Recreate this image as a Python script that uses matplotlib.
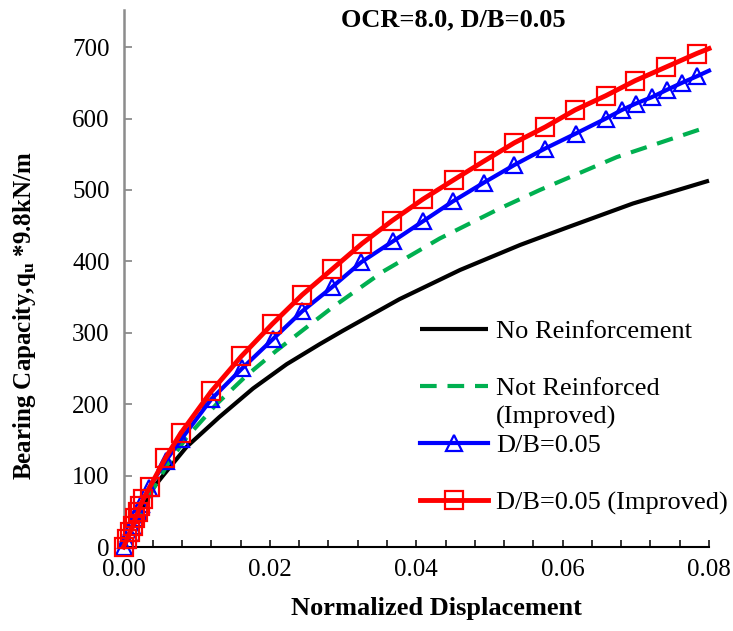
import matplotlib
matplotlib.use("Agg")
import matplotlib.pyplot as plt
from matplotlib.ticker import MultipleLocator, FormatStrFormatter

plt.rcParams['font.family'] = ['Liberation Serif', 'DejaVu Serif']
plt.rcParams['mathtext.fontset'] = 'custom'
plt.rcParams['mathtext.rm'] = 'Liberation Serif'
plt.rcParams['mathtext.bf'] = 'Liberation Serif:bold'
plt.rcParams['mathtext.it'] = 'Liberation Serif:italic'

# Load-settlement curves (normalized displacement vs bearing capacity)
x_noreinf = [0, 0.002, 0.004, 0.0054, 0.0086, 0.0131, 0.0177, 0.0223, 0.0268,
             0.030, 0.0377, 0.046, 0.0542, 0.0605, 0.0696, 0.080]
y_noreinf = [0, 45, 82, 100, 140, 182, 222, 256, 284,
             303, 347, 388, 423, 447, 481, 513]

x_notreinf_imp = [0, 0.002, 0.004, 0.0061, 0.0086, 0.0127, 0.0168, 0.0209, 0.0248,
                  0.0286, 0.0355, 0.0432, 0.0514, 0.0569, 0.0674, 0.080]
y_notreinf_imp = [0, 42, 80, 117, 153, 200, 240, 275, 306,
                  336, 386, 432, 474, 500, 546, 589]

x_db005 = [0, 0.0004, 0.0008, 0.0012, 0.0016, 0.0020, 0.0024, 0.0035, 0.0058, 0.0079,
           0.0120, 0.0162, 0.0204, 0.0244, 0.0285, 0.0325, 0.0368, 0.0409, 0.0450,
           0.0492, 0.0534, 0.0576, 0.0618, 0.0659, 0.0681, 0.0700, 0.0722, 0.0742,
           0.0763, 0.0783, 0.080]
y_db005 = [0, 10, 20, 30, 40, 50, 60, 83, 121, 151,
           207, 250, 291, 330, 364, 399, 428, 456, 484,
           510, 535, 558, 579, 600, 612, 621, 630, 640,
           650, 659, 667]

x_db005_imp = [0, 0.0005, 0.0009, 0.0013, 0.0016, 0.0020, 0.0023, 0.0027, 0.0036,
               0.0057, 0.0078, 0.0120, 0.0161, 0.0203, 0.0244, 0.0285, 0.0326, 0.0367,
               0.0409, 0.0451, 0.0492, 0.0534, 0.0576, 0.0617, 0.0659, 0.0699, 0.0741,
               0.0783, 0.080]
y_db005_imp = [0, 11, 21, 30, 40, 49, 58, 67, 84,
               124, 159, 218, 267, 312, 353, 389, 425, 457,
               487, 514, 540, 566, 588, 612, 632, 653, 672,
               691, 698]

labels = ["No Reinforcement", "Not Reinforced", "D/B=0.05", "D/B=0.05 (Improved)"]

W, H = 733, 631
fig = plt.figure(figsize=(W / 100, H / 100), dpi=100)
ax = fig.add_axes([123.5 / W, (H - 547) / H, 585.5 / W, 537 / H])

ax.plot(x_noreinf, y_noreinf, color='black', lw=3.0, label=labels[0],
        solid_capstyle='butt', clip_on=False, zorder=2)
ax.plot(x_notreinf_imp, y_notreinf_imp, color='#00B050', lw=3.0, ls=(0, (4, 2.6)),
        label=labels[1], clip_on=False, zorder=2)
ax.plot(x_db005, y_db005, color='#0000FF', lw=3.0, marker='^', ms=11,
        mfc='none', mec='#0000FF', mew=1.6, markevery=list(range(len(x_db005) - 1)),
        label=labels[2], clip_on=False, zorder=3)
ax.plot(x_db005_imp, y_db005_imp, color='#FF0000', lw=3.5, marker='s', ms=12.5,
        mfc='none', mec='#FF0000', mew=1.6, markevery=list(range(len(x_db005_imp) - 1)),
        label=labels[3], clip_on=False, zorder=4)

ax.set_xlim(0, 0.08)
ax.set_ylim(0, 752)

for side in ('top', 'right'):
    ax.spines[side].set_visible(False)
ax.spines['left'].set_color('#8C8C8C')
ax.spines['left'].set_linewidth(1.8)
ax.spines['bottom'].set_color('black')
ax.spines['bottom'].set_linewidth(1.5)

ax.xaxis.set_major_locator(MultipleLocator(0.02))
ax.xaxis.set_minor_locator(MultipleLocator(0.004))
ax.xaxis.set_major_formatter(FormatStrFormatter('%.2f'))
ax.yaxis.set_major_locator(MultipleLocator(100))

ax.tick_params(axis='x', which='both', direction='in', length=5, width=1.1,
               color='black', labelsize=18, pad=9)
ax.tick_params(axis='y', which='major', direction='in', length=6, width=1.3,
               color='#8C8C8C', labelsize=18, pad=10)

leg = ax.legend(loc='upper left', bbox_to_anchor=(0.489, 0.443), frameon=False,
                fontsize=19, handlelength=2.58, handletextpad=0.3,
                labelspacing=1.27, numpoints=1, borderaxespad=0)

fig.canvas.draw()
t = leg.get_texts()[1]
bb = t.get_window_extent()
fig.text(bb.x0 / W, (bb.y0 - 29) / H, "(Improved)", fontsize=19, ha='left', va='bottom')

fig.text(453 / W, 1 - 20 / H, "OCR=8.0, D/B=0.05", fontsize=19, fontweight='bold',
         ha='center', va='center')
fig.text(436 / W, 1 - 608 / H, "Normalized Displacement", fontsize=19,
         fontweight='bold', ha='center', va='center')
fig.text(25 / W, 1 - 316 / H, r"Bearing Capacity,q$_{\mathbf{u}}$ *9.8kN/m",
         fontsize=18, fontweight='bold', ha='center', va='center', rotation=90)

fig.savefig("out.png", dpi=100)
